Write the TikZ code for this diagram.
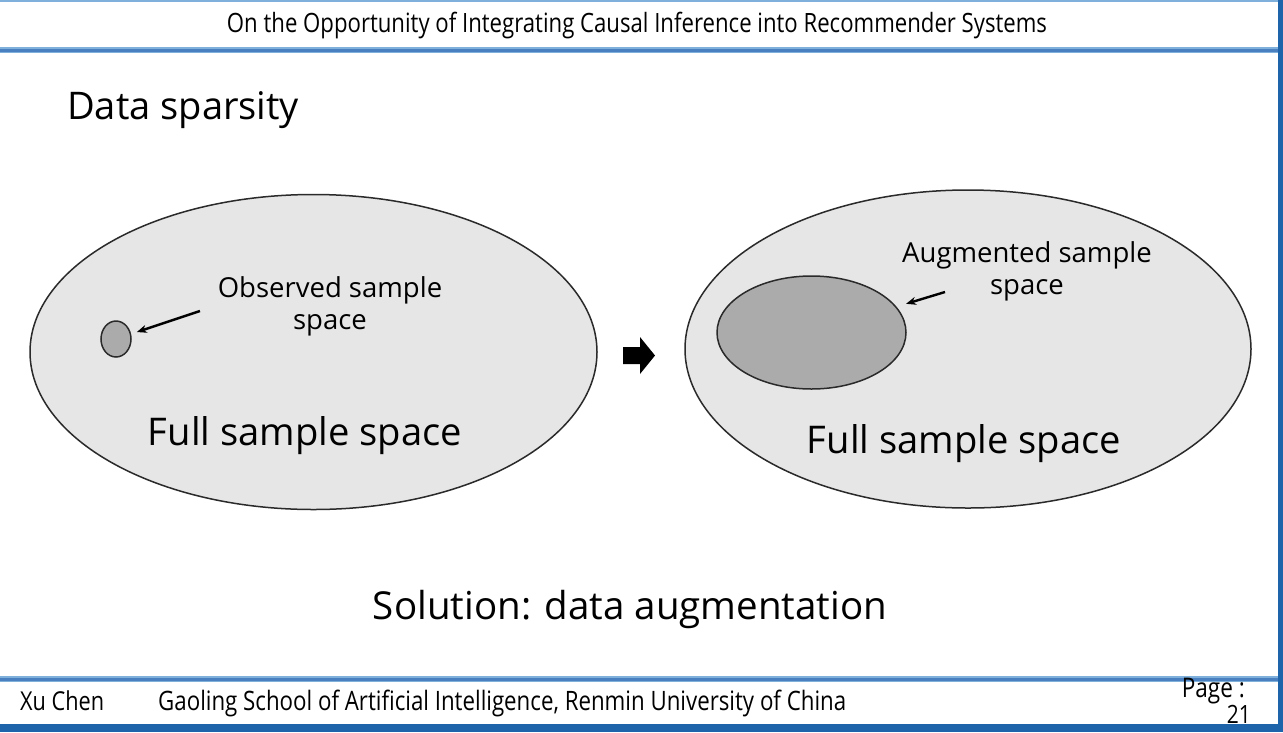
\documentclass[tikz,border=0pt]{standalone}
\usepackage{fontspec}
\setmainfont{Open Sans}
\usetikzlibrary{shapes.geometric,arrows.meta}
\definecolor{barblue}{HTML}{1E64AA}
\definecolor{lightblue}{HTML}{7FB0DC}
\definecolor{midblue}{HTML}{4A7FC0}
\definecolor{outerfill}{HTML}{E6E6E6}
\definecolor{innerfill}{HTML}{ABABAB}
\definecolor{edgegray}{HTML}{2A2A2A}
\newcommand{\fitw}[2]{\resizebox{#1}{!}{#2}}
\newcommand{\tallw}[2]{\scalebox{1}[1.2]{\resizebox{#1}{!}{#2}}}
\begin{document}
\begin{tikzpicture}[x=1pt,y=-1pt,
  space/.style={ellipse, draw=edgegray, line width=1.5pt, fill=outerfill, inner sep=0pt},
  subspace/.style={ellipse, draw=edgegray, line width=1.5pt, fill=innerfill, inner sep=0pt},
  pointer/.style={line width=2.4pt, -{Stealth[length=10pt,width=8pt]}},
  lbl/.style={inner sep=0pt, font=\fontsize{27.5}{32}\selectfont, align=center, text=black},
  big/.style={inner sep=0pt, text=black},
  foot/.style={inner sep=0pt, text=black}]
\useasboundingbox (0,0) rectangle (1283,732);
\fill[white] (0,0) rectangle (1283,732);
% frame
\fill[lightblue] (0,0) rectangle (1283,2);
\fill[lightblue] (0,47) rectangle (1278,53);
\fill[midblue] (0,49) rectangle (1278,51.5);
\fill[lightblue] (0,676) rectangle (1278,682);
\fill[midblue] (0,677.5) rectangle (1278,680.5);
\fill[barblue] (0,723.5) rectangle (1283,732);
\fill[barblue] (1278,0) rectangle (1283,732);
% header
\node[foot, anchor=base] (title) at (637,32) {\tallw{820pt}{\fontsize{20}{24}\selectfont On the Opportunity of Integrating Causal Inference into Recommender Systems}};
% heading
\node[big, anchor=base west] (heading) at (67,119) {\fitw{232pt}{\fontsize{36}{40}\selectfont Data sparsity}};
% left
\node[space, minimum width=567pt, minimum height=315pt] (full1) at (313.5,352) {};
\node[subspace, minimum width=30pt, minimum height=36pt] (obs) at (116,339) {};
\node[lbl] (obstext) at (330,306) {Observed sample\\space};
\coordinate (p1) at (200,311);
\draw[pointer, shorten >=6pt] (p1) -- (obs);
\node[big] (fulltext1) at (305,436) {\fitw{314pt}{\fontsize{38}{44}\selectfont Full sample space}};
% block arrow
\fill[black] (623,347) -- (640,347) -- (640,337) -- (655,355.5) -- (640,374) -- (640,364) -- (623,364) -- cycle;
% right
\node[space, minimum width=566pt, minimum height=318pt] (full2) at (968,349) {};
\node[subspace, minimum width=189pt, minimum height=113pt] (aug) at (811.5,332.5) {};
\node[lbl] (augtext) at (1027,271) {Augmented sample\\space};
\coordinate (p2) at (945,292);
\draw[pointer, shorten >=10pt] (p2) -- (aug);
\node[big] (fulltext2) at (964,444) {\fitw{314pt}{\fontsize{38}{44}\selectfont Full sample space}};
% solution
\node[big] (solution) at (630,609) {\fitw{514pt}{\fontsize{38}{44}\selectfont Solution: data augmentation}};
% footer
\node[foot, anchor=base west] (author) at (20,710) {\tallw{84pt}{\fontsize{20}{24}\selectfont Xu Chen}};
\node[foot, anchor=base west] (school) at (158,710) {\tallw{688pt}{\fontsize{20}{24}\selectfont Gaoling School of Artificial Intelligence, Renmin University of China}};
\node[foot, anchor=base east] (page) at (1245,697) {\tallw{63pt}{\fontsize{20}{24}\selectfont Page :}};
\node[foot, anchor=base east] (pnum) at (1251,723) {\tallw{24pt}{\fontsize{20}{24}\selectfont 21}};
\end{tikzpicture}
\end{document}
